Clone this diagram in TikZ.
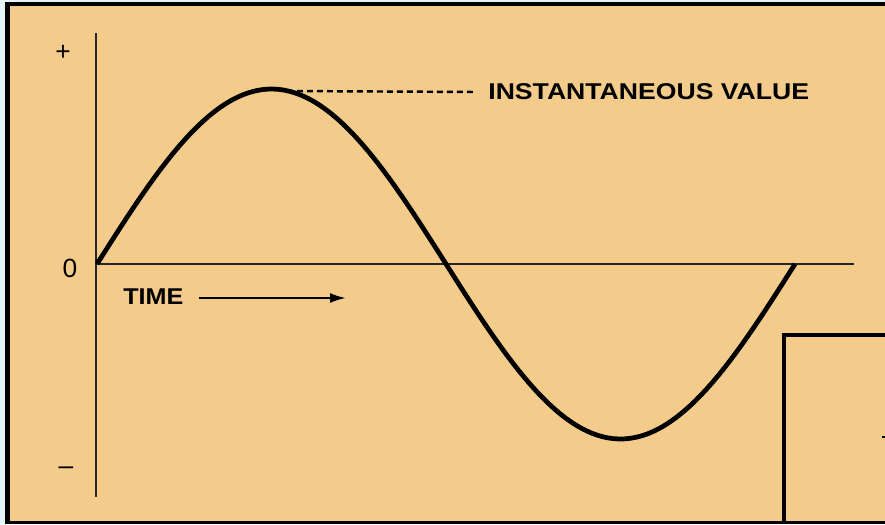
\documentclass[tikz,border=0pt]{standalone}
\usepackage{fontspec}
\setmainfont{Liberation Sans}
\usetikzlibrary{arrows.meta}
\definecolor{tan}{HTML}{F3CC8C}
\definecolor{skyedge}{HTML}{E6F3F8}

\begin{document}
\begin{tikzpicture}[x=0.02cm,y=-0.02cm,>=Latex,
  lbl/.style={inner sep=0pt,font=\fontsize{13}{15}\selectfont\bfseries},
  sgn/.style={inner sep=0pt,font=\fontsize{15}{17}\selectfont},
  axis/.style={line width=1.5pt,draw=black!85}]
\useasboundingbox (0,0) rectangle (885,524);
% frame
\fill[skyedge] (0,0) rectangle (885,524);
\fill[tan] (5,2) rectangle (885,524);
\draw[line width=2.3pt] (7.5,524) -- (7.5,4) -- (885,4);
\draw[line width=1.2pt] (5,522.5) -- (885,522.5);
% axes
\coordinate (top) at (96,33);
\coordinate (bot) at (96,497);
\coordinate (orig) at (96,264);
\coordinate (xend) at (854,264);
\draw[axis] (top) -- (bot);
\draw[axis] (orig) -- (xend);
\node[sgn] (plus) at (63,53) {+};
\node[sgn] (zero) at (70,268) {0};
\node[sgn] (minus) at (66,471) {\textendash};
% wave
\draw[line width=2.7pt,line join=round] plot[domain=0:698,samples=120]
  ({97+\x},{264-175*sin(\x/698*360)});
\coordinate (peak) at (287,91);
\node[lbl,anchor=west] (inst) at (488,92) {\scalebox{1.165}[1]{INSTANTANEOUS VALUE}};
\draw[line width=1.4pt,dash pattern=on 0.12cm off 0.08cm] (peak) -- ([xshift=-0.26cm]inst.west);
% time arrow
\node[lbl,anchor=west] (time) at (123,297) {\scalebox{1.1}[1]{TIME}};
\coordinate (tend) at (346,298);
\draw[-{Latex[length=0.32cm,width=0.2cm]},line width=1.3pt] ([xshift=0.3cm]time.east|-tend) -- (tend);
% box at lower right
\draw[line width=2.4pt] (784,524) -- (784,335) -- (885,335);
\draw[line width=1pt] (882,437) -- (885,437);
\end{tikzpicture}
\end{document}
